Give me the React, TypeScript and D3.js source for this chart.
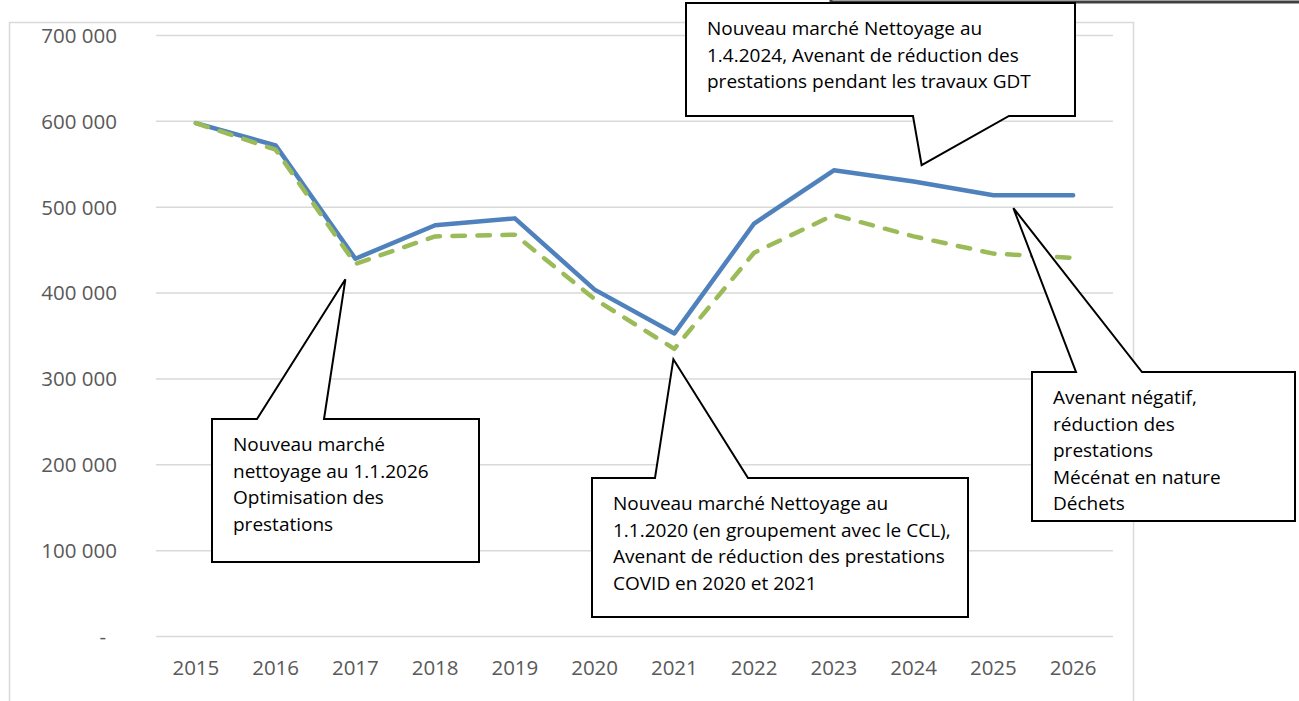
// @ts-nocheck
import React, { useRef, useEffect } from 'react';
import * as d3 from 'd3';

const years = ['2015', '2016', '2017', '2018', '2019', '2020', '2021', '2022', '2023', '2024', '2025', '2026'];
const blueValues = [598000, 572000, 440000, 479000, 487000, 404000, 353000, 481000, 543000, 530000, 514000, 514000];
const greenValues = [598000, 567000, 434000, 466000, 468000, 393000, 335000, 447000, 491000, 466000, 446000, 441000];
const yTicks = [0, 100000, 200000, 300000, 400000, 500000, 600000, 700000];

// callouts: box in pixels, tail tip anchored on the data scale
const callouts = [
  {
    box: [686, 3, 1075, 116], side: 'bottom', base: [913, 1009],
    tip: { year: '2024', dx: 8, value: 549000 },
    lines: ['Nouveau marché Nettoyage au', '1.4.2024, Avenant de réduction des', 'prestations pendant les travaux GDT'],
  },
  {
    box: [212, 419, 479, 562], side: 'top', base: [257, 324],
    tip: { year: '2017', dx: -10, value: 416000 },
    lines: ['Nouveau marché', 'nettoyage au 1.1.2026', 'Optimisation des', 'prestations'],
  },
  {
    box: [592, 478, 968, 617], side: 'top', base: [655, 748],
    tip: { year: '2021', dx: -1, value: 323000 },
    lines: ['Nouveau marché Nettoyage au', '1.1.2020 (en groupement avec le CCL),', 'Avenant de réduction des prestations', 'COVID en 2020 et 2021'],
  },
  {
    box: [1032, 372, 1295, 521], side: 'top', base: [1076, 1142],
    tip: { year: '2025', dx: 20, value: 499000 },
    lines: ['Avenant négatif,', 'réduction des', 'prestations', 'Mécénat en nature', 'Déchets'],
  },
];

const W = 1299;
const H = 701;
const FONT = '"Open Sans", sans-serif';

const App = () => {
  const svgRef = useRef(null);

  useEffect(() => {
    const svg = d3.select(svgRef.current);
    svg.selectAll('*').remove();

    const x = d3.scalePoint().domain(years).range([156, 1113]).padding(0.5);
    const y = d3.scaleLinear().domain([0, 700000]).range([636.5, 35.5]);
    const fmt = d3.formatLocale({ thousands: ' ', grouping: [3], decimal: ',', currency: ['', ''] }).format(',');

    svg.append('rect').attr('width', W).attr('height', H).attr('fill', '#fff');

    // chart area border
    svg.append('path')
      .attr('d', `M9.5,${H + 5} V22.5 H1133.5 V${H + 5}`)
      .attr('fill', 'none').attr('stroke', '#d9d9d9').attr('stroke-width', 1.5);

    // gridlines
    svg.append('g').selectAll('line').data(yTicks).enter().append('line')
      .attr('x1', 156).attr('x2', 1113)
      .attr('y1', d => y(d)).attr('y2', d => y(d))
      .attr('stroke', '#d9d9d9').attr('stroke-width', 1.5);

    // y labels
    svg.append('g').selectAll('text').data(yTicks).enter().append('text')
      .attr('x', d => (d === 0 ? 106 : 117)).attr('y', d => y(d)).attr('dy', '0.36em')
      .attr('text-anchor', 'end').attr('fill', '#595959')
      .attr('font-family', FONT).attr('font-size', 20.5)
      .text(d => (d === 0 ? '-' : fmt(d)));

    // x labels
    svg.append('g').selectAll('text').data(years).enter().append('text')
      .attr('x', d => x(d)).attr('y', 667.5).attr('dy', '0.36em')
      .attr('text-anchor', 'middle').attr('fill', '#595959')
      .attr('font-family', FONT).attr('font-size', 20.5)
      .text(d => d);

    const line = d3.line().x((d, i) => x(years[i])).y(d => y(d));

    svg.append('path').datum(blueValues)
      .attr('d', line).attr('fill', 'none')
      .attr('stroke', '#4F81BD').attr('stroke-width', 4.5)
      .attr('stroke-linejoin', 'round').attr('stroke-linecap', 'round');

    svg.append('path').datum(greenValues)
      .attr('d', line).attr('fill', 'none')
      .attr('stroke', '#9BBB59').attr('stroke-width', 4.5)
      .attr('stroke-dasharray', '12.5 12.5')
      .attr('stroke-linejoin', 'round').attr('stroke-linecap', 'round');

    // edge of a shape sitting above the picture
    svg.append('path')
      .attr('d', `M831,0 V2 H${W}`)
      .attr('fill', 'none').attr('stroke', '#404040').attr('stroke-width', 3);

    // callouts
    callouts.forEach(c => {
      const [x0, y0, x1, y1] = c.box;
      const [a, b] = c.base;
      const tx = x(c.tip.year) + c.tip.dx;
      const ty = y(c.tip.value);
      const d = c.side === 'bottom'
        ? `M${x0},${y0} H${x1} V${y1} H${b} L${tx},${ty} L${a},${y1} H${x0} Z`
        : `M${x0},${y0} H${a} L${tx},${ty} L${b},${y0} H${x1} V${y1} H${x0} Z`;
      svg.append('path').attr('d', d)
        .attr('fill', '#fff').attr('stroke', '#000').attr('stroke-width', 2)
        .attr('stroke-linejoin', 'miter');

      const t = svg.append('text')
        .attr('font-family', FONT).attr('font-size', 19).attr('fill', '#000');
      c.lines.forEach((l, i) => {
        t.append('tspan').attr('x', x0 + 21).attr('y', y0 + 32 + i * 26.6).text(l);
      });
    });
  }, []);

  return (
    <div style={{ position: 'absolute', left: 0, top: 0 }}>
      <svg ref={svgRef} width={W} height={H} style={{ display: 'block' }} />
    </div>
  );
};

export default App;
